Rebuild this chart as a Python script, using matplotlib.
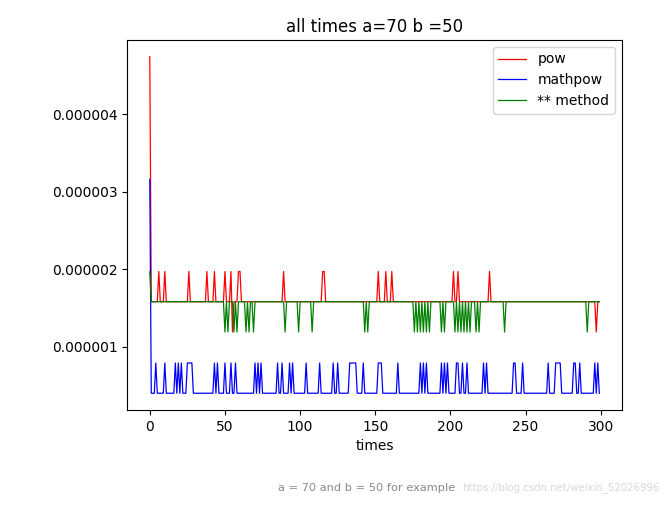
import matplotlib
matplotlib.use("Agg")
import matplotlib.pyplot as plt
from matplotlib.ticker import FormatStrFormatter

n_points = 300
times = list(range(n_points))

# timing levels (seconds)
level_pow_first = 4.74e-6
level_mathpow_first = 3.16e-6
level_star_first = 1.97e-6
level_high = 1.97e-6
level_base = 1.58e-6
level_dip = 1.19e-6
level_blue_high = 0.79e-6
level_blue_base = 0.40e-6

# indices where each series departs from its base level
pow_high_idx = [6, 10, 26, 38, 43, 50, 54, 59, 60, 89, 115, 116, 152, 157, 161,
                202, 205, 226]
pow_low_idx = [55, 297]
star_low_idx = [50, 52, 56, 58, 64, 66, 69, 90, 99, 108, 143, 145, 176, 178, 180,
                182, 184, 186, 194, 196, 203, 205, 207, 209, 211, 213, 217, 219,
                236, 291]
mathpow_high_idx = [4, 10, 17, 19, 21, 25, 26, 27, 28, 43, 45, 50, 54, 57, 70, 72,
                    74, 85, 88, 93, 95, 104, 113, 122, 125, 133, 134, 135, 136, 137,
                    142, 152, 153, 154, 165, 180, 182, 184, 194, 196, 198, 204, 205,
                    208, 211, 222, 224, 242, 243, 248, 265, 270, 271, 272, 273, 282,
                    283, 286, 296, 298]

pow_vals = [level_base] * n_points
for i in pow_high_idx:
    pow_vals[i] = level_high
for i in pow_low_idx:
    pow_vals[i] = level_dip
pow_vals[0] = level_pow_first

mathpow_vals = [level_blue_base] * n_points
for i in mathpow_high_idx:
    mathpow_vals[i] = level_blue_high
mathpow_vals[0] = level_mathpow_first

star_vals = [level_base] * n_points
for i in star_low_idx:
    star_vals[i] = level_dip
star_vals[0] = level_star_first

fig = plt.figure(figsize=(6.7, 5.05), dpi=100)
ax = fig.add_axes([0.19, 0.188, 0.738, 0.733])
ax.plot(times, pow_vals, color="red", lw=0.9, label="pow")
ax.plot(times, mathpow_vals, color="blue", lw=0.9, label="mathpow")
ax.plot(times, star_vals, color="green", lw=0.9, label="** method")
ax.set_title("all times a=70 b =50", fontsize=12)
ax.set_xlabel("times", fontsize=10)
ax.set_yticks([1e-6, 2e-6, 3e-6, 4e-6])
ax.yaxis.set_major_formatter(FormatStrFormatter("%.6f"))
ax.set_xticks([0, 50, 100, 150, 200, 250, 300])
ax.legend(loc="upper right", fontsize=10)

fig.text(0.985, 0.035, "https://blog.csdn.net/weixin_52026996", ha="right",
         va="center", fontsize=7.3, color="#d8d8d8")
fig.text(0.415, 0.033, "a = 70 and b = 50 for example", ha="left", va="center",
         fontsize=8.2, color="#8a8a8a")

fig.savefig("out.png", dpi=100)
